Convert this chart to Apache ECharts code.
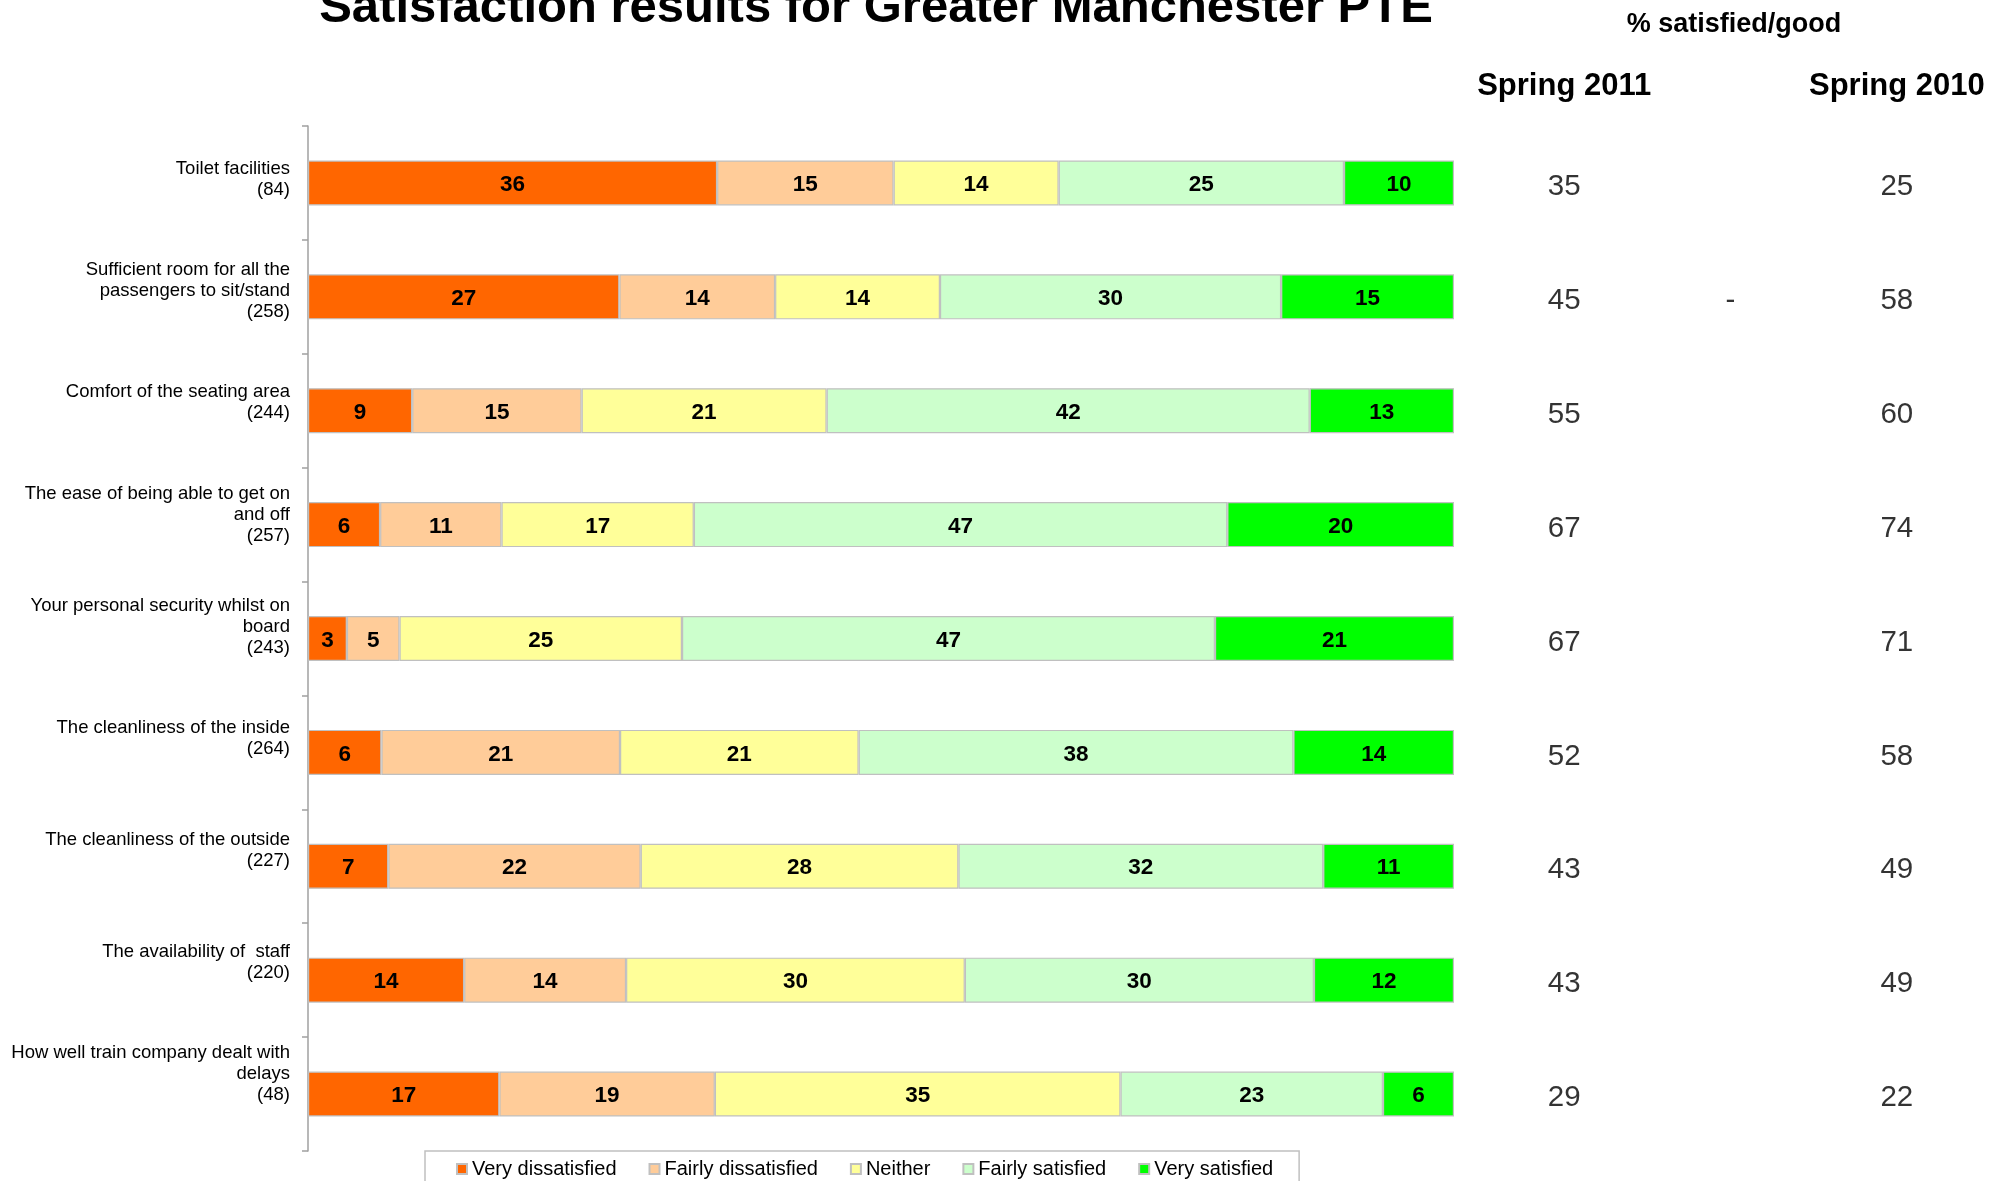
<!DOCTYPE html>
<html>
<head>
<meta charset="utf-8">
<script src="https://cdn.jsdelivr.net/npm/echarts@6/dist/echarts.min.js"></script>
<style>
html,body{margin:0;padding:0;background:#fff;}
#chart{width:2010px;height:1181px;}
</style>
</head>
<body>
<div id="chart"></div>
<script>
const categories = [
  'Toilet facilities\n(84)',
  'Sufficient room for all the\npassengers to sit/stand\n(258)',
  'Comfort of the seating area\n(244)',
  'The ease of being able to get on\nand off\n(257)',
  'Your personal security whilst on\nboard\n(243)',
  'The cleanliness of the inside\n(264)',
  'The cleanliness of the outside\n(227)',
  'The availability of  staff\n(220)',
  'How well train company dealt with\ndelays\n(48)'
];
const seriesNames = ['Very dissatisfied', 'Fairly dissatisfied', 'Neither', 'Fairly satisfied', 'Very satisfied'];
// percentages (labels show them rounded)
const veryDissatisfied   = [35.7, 27.2,  9.1,  6.3,  3.4,  6.4,  7.0, 13.6, 16.7];
const fairlyDissatisfied = [15.4, 13.6, 14.8, 10.6,  4.6, 20.8, 22.0, 14.1, 18.8];
const neither            = [14.4, 14.4, 21.4, 16.8, 24.7, 20.8, 27.7, 29.5, 35.4];
const fairlySatisfied    = [24.9, 29.8, 42.2, 46.6, 46.6, 37.9, 31.8, 30.4, 22.9];
const verySatisfied      = [ 9.6, 15.1, 12.6, 19.8, 20.9, 14.0, 11.4, 12.2,  6.2];
const spring2011 = [35, 45, 55, 67, 67, 52, 43, 43, 29];
const spring2010 = [25, 58, 60, 74, 71, 58, 49, 49, 22];
const changeMarks = ['', '-', '', '', '', '', '', '', ''];
const headerLabels = ['Spring 2011', '', 'Spring 2010'];
const titleText = 'Satisfaction results for Greater Manchester PTE';
const subHeader = '% satisfied/good';

const colors = ['#FF6600', '#FFCC99', '#FFFF99', '#CCFFCC', '#00FF00'];
const FONT = '"Liberation Sans", Arial, sans-serif';

const allSeries = [veryDissatisfied, fairlyDissatisfied, neither, fairlySatisfied, verySatisfied];
const rowTotals = categories.map((c, i) => allSeries.reduce((s, arr) => s + arr[i], 0));

const barSeries = allSeries.map((arr, k) => ({
  name: seriesNames[k],
  type: 'bar',
  stack: 'total',
  barWidth: 45,
  xAxisIndex: 0,
  yAxisIndex: 0,
  itemStyle: { color: colors[k], borderColor: '#C0C0C0', borderWidth: 1.2 },
  label: {
    show: true,
    position: 'inside',
    color: '#000',
    fontFamily: FONT,
    fontWeight: 'bold',
    fontSize: 22.5,
    offset: [0, 2],
    formatter: p => Math.round(p.data.raw)
  },
  data: arr.map((v, i) => ({ value: v / rowTotals[i] * 100, raw: v }))
}));

const colLabel = {
  show: true,
  position: 'inside',
  color: '#000',
  fontFamily: FONT,
  fontSize: 29.5,
  offset: [0, 4],
  formatter: p => p.data[2]
};
const scatterBase = {
  type: 'scatter',
  xAxisIndex: 1,
  yAxisIndex: 1,
  symbolSize: 1,
  silent: true,
  itemStyle: { color: 'rgba(0,0,0,0)' },
  label: colLabel
};

// spacer styles that lift each category label slightly above its bar (as in the source chart)
const labelRich = {};
categories.forEach((c, i) => {
  labelRich['s' + i] = { fontSize: 1, lineHeight: 2 * (4 + 2 * i), height: 2 * (4 + 2 * i) };
});
const catIndex = {};
categories.forEach((c, i) => { catIndex[c] = i; });

const option = {
  backgroundColor: '#fff',
  animation: false,
  title: [
    {
      text: titleText,
      left: 876, textAlign: 'center', top: -16, padding: 0,
      textStyle: { fontFamily: FONT, fontSize: 49, fontWeight: 'bold', color: '#000', lineHeight: 49 }
    },
    {
      text: subHeader,
      left: 1734, textAlign: 'center', top: 11, padding: 0,
      textStyle: { fontFamily: FONT, fontSize: 27, fontWeight: 'bold', color: '#000', lineHeight: 27 }
    }
  ],
  legend: {
    data: seriesNames,
    left: 425, top: 1151,
    orient: 'horizontal',
    padding: [8, 26, 8, 31],
    itemGap: 32,
    itemWidth: 10, itemHeight: 10,
    icon: 'rect',
    borderColor: '#C0C0C0', borderWidth: 1.5,
    textStyle: { fontFamily: FONT, fontSize: 20, color: '#000', lineHeight: 20 }
  },
  grid: [
    { left: 308, top: 126, width: 1146, height: 1025 },
    { left: 1481, top: 126, width: 499, height: 1025 }
  ],
  xAxis: [
    { type: 'value', gridIndex: 0, min: 0, max: 100, show: false },
    {
      type: 'category', gridIndex: 1, data: headerLabels, position: 'top',
      axisLine: { show: false }, axisTick: { show: false }, splitLine: { show: false },
      axisLabel: { fontFamily: FONT, fontSize: 31, fontWeight: 'bold', color: '#000', lineHeight: 31, margin: 24 }
    }
  ],
  yAxis: [
    {
      type: 'category', gridIndex: 0, inverse: true,
      data: categories,
      axisLine: { show: true, lineStyle: { color: '#A0A0A0', width: 1.5 } },
      axisTick: { show: true, length: 6, lineStyle: { color: '#A0A0A0', width: 1.5 } },
      axisLabel: {
        fontFamily: FONT, fontSize: 18.5, lineHeight: 21, color: '#000', margin: 18, align: 'right',
        formatter: v => v + '\n{s' + catIndex[v] + '| }',
        rich: labelRich
      },
      splitLine: { show: false }
    },
    { type: 'category', gridIndex: 1, inverse: true, data: categories, show: false }
  ],
  series: barSeries.concat([
    Object.assign({ name: 'Spring 2011 value', data: spring2011.map((v, i) => [0, i, v]) }, scatterBase),
    Object.assign({ name: 'Change', data: changeMarks.map((m, i) => m ? [1, i, m] : null).filter(Boolean) }, scatterBase),
    Object.assign({ name: 'Spring 2010 value', data: spring2010.map((v, i) => [2, i, v]) }, scatterBase)
  ])
};

const chart = echarts.init(document.getElementById('chart'), null, { renderer: 'canvas' });
chart.setOption(option);
</script>
</body>
</html>
